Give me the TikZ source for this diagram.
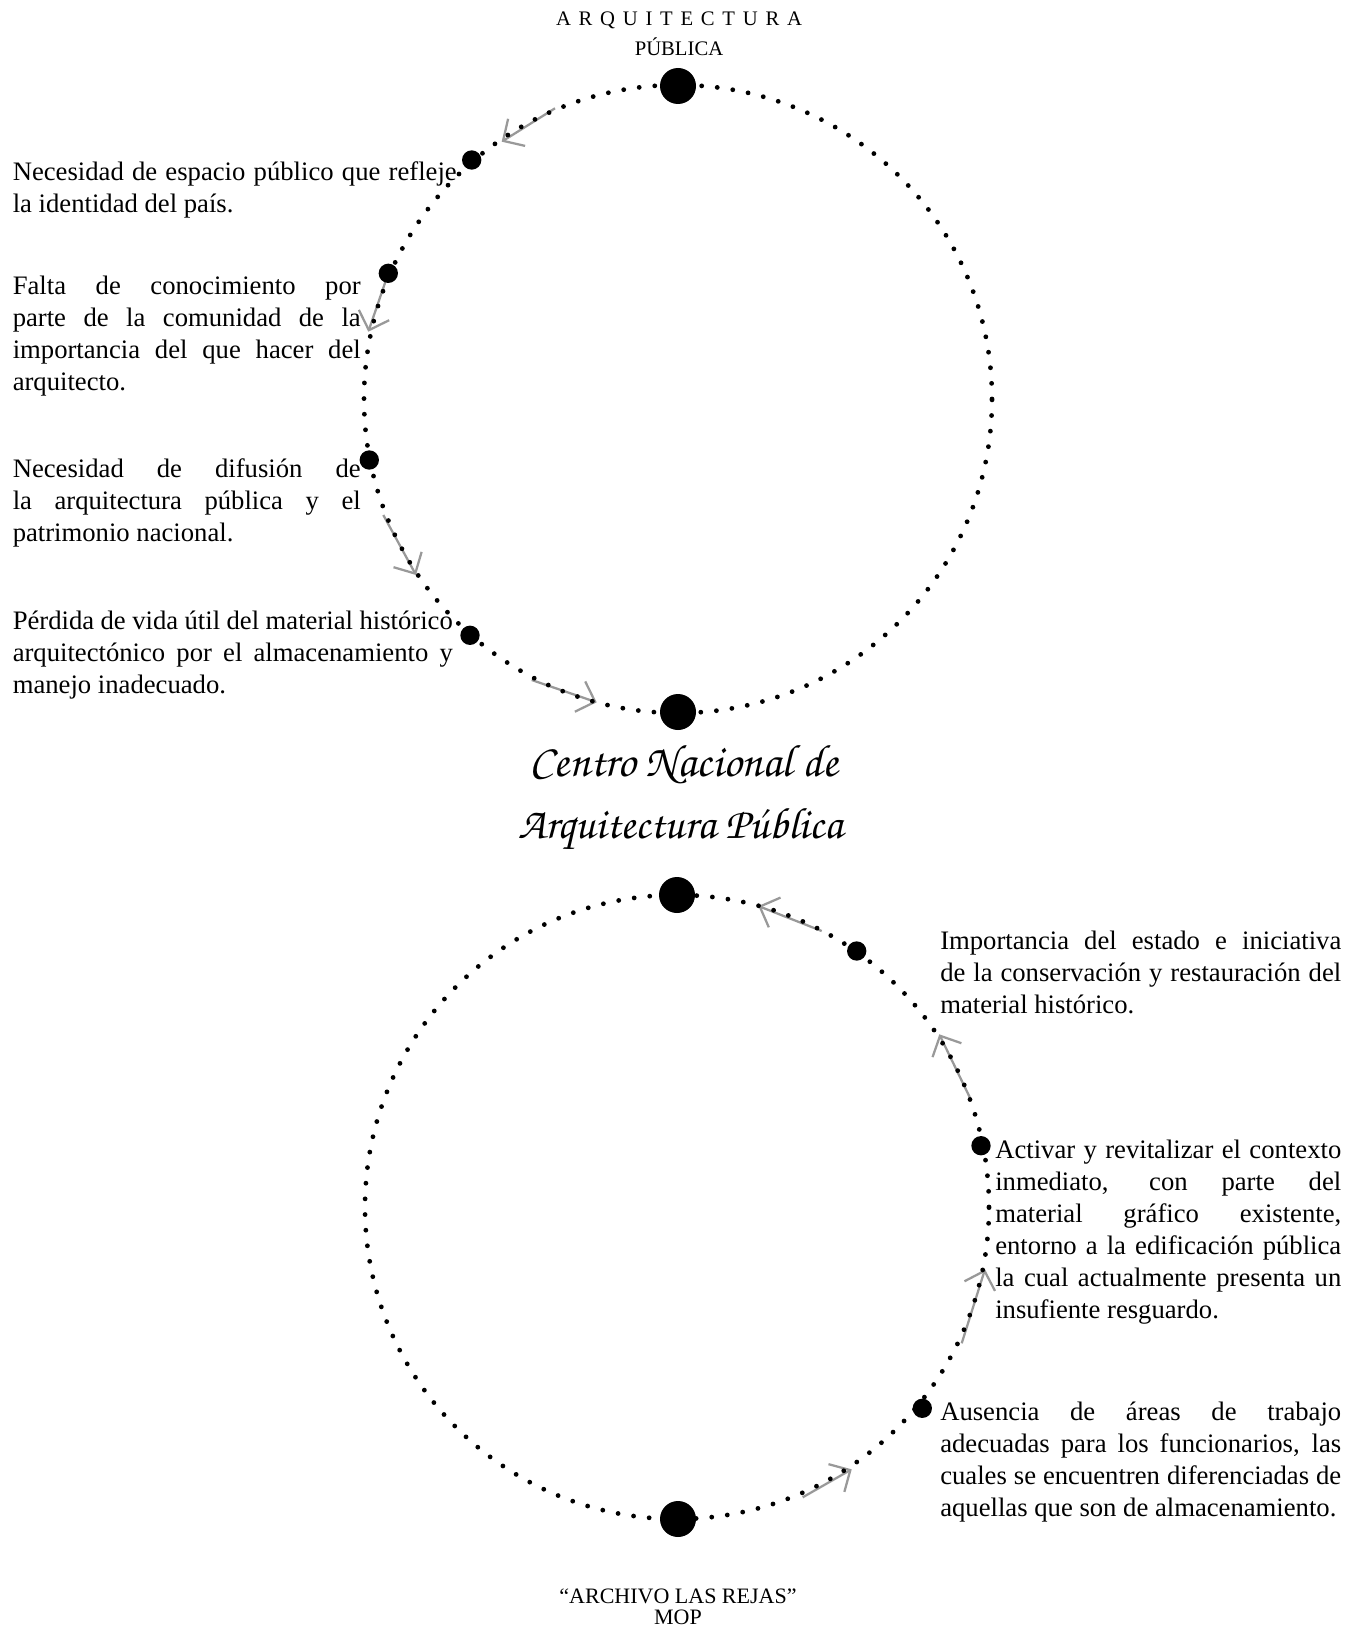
\documentclass[tikz,border=0pt]{standalone}
\usepackage{graphicx}
\usepackage{fontspec}
\setmainfont{Liberation Serif}
\newfontfamily\scriptf{texgyrechorus-mediumitalic.otf}
\usetikzlibrary{arrows.meta}
\newcommand\jl[1]{\makebox[\linewidth][s]{#1}}
\definecolor{arrowgray}{rgb}{0.6,0.6,0.6}
\begin{document}
\begin{tikzpicture}[x=0.75pt,y=-0.75pt,
  dotringA/.style={line width=3.6pt, line cap=round, dash pattern=on 0pt off 11.74pt},
  dotringB/.style={line width=3.6pt, line cap=round, dash pattern=on 0pt off 11.76pt},
  bigdot/.style={circle, fill=black, inner sep=0pt, minimum size=27pt},
  smalldot/.style={circle, fill=black, inner sep=0pt, minimum size=14.5pt},
  garrow/.style={draw=arrowgray, line width=1.7pt, -{Straight Barb[length=12pt,width=24pt]}},
  txt/.style={anchor=base west, inner sep=0pt, font=\fontsize{20}{24}\selectfont},
  ttl/.style={anchor=base, inner sep=0pt, font=\fontsize{15.5}{18}\selectfont},
  btl/.style={anchor=base, inner sep=0pt, font=\fontsize{16.5}{18}\selectfont},
  scr/.style={anchor=base, inner sep=0pt}]
\useasboundingbox (0,0) rectangle (1359,1630);

% centres of the two rings
\coordinate (cA) at (678,399);
\coordinate (cB) at (677,1207);

% small dots (positions)
\coordinate (pd1) at (471.7,160);
\coordinate (pd2) at (388.3,273.3);
\coordinate (pd3) at (369.3,460);
\coordinate (pd4) at (470,635.3);
\coordinate (pe1) at (856.7,951);
\coordinate (pe2) at (981,1145.7);
\coordinate (pe3) at (922.3,1408.3);

% arrow end points
\coordinate (a1s) at (555,108.3);   \coordinate (a1e) at (501.7,141.7);
\coordinate (a2e) at (368.3,331.7);
\coordinate (a3s) at (383.3,515);   \coordinate (a3e) at (416,575);
\coordinate (a4s) at (531.7,680);   \coordinate (a4e) at (596.7,702.3);
\coordinate (a5s) at (821.7,931);   \coordinate (a5e) at (758.3,906);
\coordinate (a6s) at (970.7,1099.3);\coordinate (a6e) at (939.3,1034.3);
\coordinate (a7s) at (961.7,1343.3);\coordinate (a7e) at (985,1269.3);
\coordinate (a8s) at (802.7,1497.3);\coordinate (a8e) at (851.7,1469.3);

% gray arrows (under the dots)
\draw[garrow] (a1s) -- (a1e);
\draw[garrow] (pd2) -- (a2e);
\draw[garrow] (a3s) -- (a3e);
\draw[garrow] (a4s) -- (a4e);
\draw[garrow] (a5s) -- (a5e);
\draw[garrow] (a6s) -- (a6e);
\draw[garrow] (a7s) -- (a7e);
\draw[garrow] (a8s) -- (a8e);

% dotted rings
\draw[dotringA] (cA) circle [radius=235.5pt];
\draw[dotringB] (cB) circle [radius=234pt];

% big dots
\node[bigdot] (tA) at (678,86) {};
\node[bigdot] (bA) at (678,712) {};
\node[bigdot] (tB) at (677,895) {};
\node[bigdot] (bB) at (678,1519) {};

% small dots
\node[smalldot] (d1) at (pd1) {};
\node[smalldot] (d2) at (pd2) {};
\node[smalldot] (d3) at (pd3) {};
\node[smalldot] (d4) at (pd4) {};
\node[smalldot] (e1) at (pe1) {};
\node[smalldot] (e2) at (pe2) {};
\node[smalldot] (e3) at (pe3) {};

% titles
\node[ttl] (title1) at (679,26) {\makebox[184.5pt][s]{A R Q U I T E C T U R A}};
\node[ttl] (title2) at (679,56) {PÚBLICA};
\node[btl] (bot1) at (678,1603) {“ARCHIVO LAS REJAS”};
\node[btl] (bot2) at (678,1624) {MOP};

% script title
\node[scr] (s1) at (684,776) {\resizebox{231pt}{!}{\scriptf Centro Nacional de}};
\node[scr] (s2) at (680.5,838) {\resizebox{243.75pt}{!}{\scriptf Arquitectura Pública}};

% left texts
\node[txt] (t1) at (12.5,181) {\parbox[t]{333pt}{\jl{Necesidad de espacio público que refleje}\\la identidad del país.}};
\node[txt] (t2) at (12.5,294.5) {\parbox[t]{261pt}{\jl{Falta de conocimiento por}\\\jl{parte de la comunidad de la}\\\jl{importancia del que hacer del}\\arquitecto.}};
\node[txt] (t3) at (12.5,477.5) {\parbox[t]{261pt}{\jl{Necesidad de difusión de}\\\jl{la arquitectura pública y el}\\patrimonio nacional.}};
\node[txt] (t4) at (12.5,629) {\parbox[t]{330pt}{\jl{Pérdida de vida útil del material histórico}\\\jl{arquitectónico por el almacenamiento y}\\manejo inadecuado.}};

% right texts
\node[txt] (t5) at (940,949.5) {\parbox[t]{300.75pt}{\jl{Importancia del estado e iniciativa}\\\jl{de la conservación y restauración del}\\material histórico.}};
\node[txt] (t6) at (995,1158.5) {\parbox[t]{259.5pt}{\jl{Activar y revitalizar el contexto}\\\jl{inmediato, con parte del}\\\jl{material gráfico existente,}\\\jl{entorno a la edificación pública}\\\jl{la cual actualmente presenta un}\\insufiente resguardo.}};
\node[txt] (t7) at (940,1420.5) {\parbox[t]{300.75pt}{\jl{Ausencia de áreas de trabajo}\\\jl{adecuadas para los funcionarios, las}\\\jl{cuales se encuentren diferenciadas de}\\aquellas que son de almacenamiento.}};
\end{tikzpicture}
\end{document}
